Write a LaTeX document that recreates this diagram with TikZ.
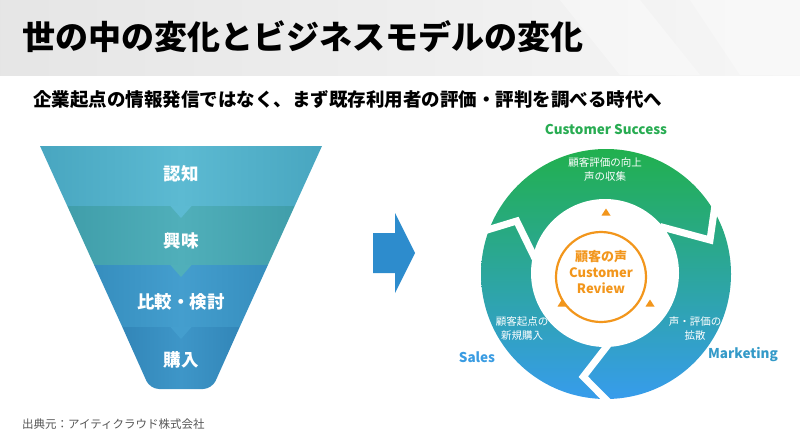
\documentclass[tikz,border=0pt]{standalone}
\usepackage{fontspec}
\setmainfont{Noto Sans CJK JP}
\definecolor{fA}{RGB}{92,186,210}
\definecolor{fAd}{RGB}{72,166,192}
\definecolor{fB}{RGB}{80,175,186}
\definecolor{fBd}{RGB}{64,158,170}
\definecolor{fC}{RGB}{68,158,206}
\definecolor{fCd}{RGB}{54,142,190}
\definecolor{fD}{RGB}{62,150,200}
\definecolor{fDd}{RGB}{50,134,184}
\definecolor{arrowc}{RGB}{45,140,205}
\definecolor{gT}{RGB}{33,176,78}
\definecolor{gM}{RGB}{38,164,160}
\definecolor{gB}{RGB}{55,156,236}
\definecolor{csc}{RGB}{40,172,82}
\definecolor{salc}{RGB}{58,156,226}
\definecolor{mkc}{RGB}{52,154,200}
\definecolor{orc}{RGB}{242,150,28}
\definecolor{footc}{RGB}{85,85,85}
\tikzset{
  lbl/.style={inner sep=0pt, font=\fontsize{17.5}{20}\selectfont\bfseries, text=white},
  ringtxt/.style={inner sep=0pt, align=center, text=white, font=\fontsize{10.5}{14}\selectfont},
  outerlbl/.style={inner sep=0pt, font=\fontsize{13.5}{16}\selectfont\bfseries},
  ortxt/.style={inner sep=0pt, text=orc, font=\fontsize{13}{15}\selectfont\bfseries},
  gap/.style={white, line width=7pt},
  tri/.style={fill=orc}
}
\begin{document}
\begin{tikzpicture}[x=1pt,y=-1pt]
\useasboundingbox (0,0) rectangle (800,439);
% title band
\shade[left color=gray!20, right color=gray!7] (0,0) rectangle (800,75);
\fill[white, opacity=0.35] (560,0) -- (640,0) -- (700,75) -- (620,75) -- cycle;
\fill[white, opacity=0.3] (690,0) -- (800,0) -- (800,75) -- (740,75) -- cycle;
\node[inner sep=0pt, anchor=west, font=\fontsize{33}{36}\selectfont\bfseries] (title) at (22,37) {世の中の変化とビジネスモデルの変化};
\node[inner sep=0pt, anchor=west, font=\fontsize{18.5}{22}\selectfont\bfseries] (sub) at (33,100) {企業起点の情報発信ではなく、まず既存利用者の評価・評判を調べる時代へ};
% funnel
\path[left color=fAd, right color=fAd, middle color=fA] (40,146) -- (322,146) -- (294.7,206) -- (67.3,206) -- cycle;
\path[left color=fBd, right color=fBd, middle color=fB] (67.3,206) -- (294.7,206) -- (267.9,265) -- (94.1,265) -- cycle;
\path[left color=fCd, right color=fCd, middle color=fC] (94.1,265) -- (267.9,265) -- (239.7,327) -- (122.3,327) -- cycle;
\path[left color=fDd, right color=fDd, middle color=fD] (122.3,327) -- (239.7,327) [rounded corners=9] -- (212,389) -- (150,389) [sharp corners] -- cycle;
\fill[fA] (170,205.5) -- (192,205.5) -- (181,218) -- cycle;
\fill[fB] (170,264.5) -- (192,264.5) -- (181,277) -- cycle;
\fill[fC] (170,326.5) -- (192,326.5) -- (181,339) -- cycle;
\node[lbl] (f1) at (181,174) {認知};
\node[lbl] (f2) at (181,241) {興味};
\node[lbl] (f3) at (181,302) {比較・検討};
\node[lbl] (f4) at (181,360) {購入};
% arrow
\fill[arrowc] (373,233) -- (395,233) -- (395,213) -- (415,253) -- (395,293) -- (395,273) -- (373,273) -- cycle;
% ring
\coordinate (C) at (605,273);
\shade[top color=gT, middle color=gM, bottom color=gB] (606,274) circle (125);
\fill[white] (C) circle (74);
\draw[gap] (474.7,233.8) -- (516.7,221) -- (535,258.5);
\draw[gap] (716,198) -- (710,240) -- (660,226.5);
\draw[gap] (611,341) -- (583.3,376.7) -- (611,404.7);
\node[ringtxt] (t1) at (605,170) {顧客評価の向上\\声の収集};
\node[ringtxt] (t2) at (522,329) {顧客起点の\\新規購入};
\node[ringtxt] (t3) at (695,329) {声・評価の\\拡散};
\node[outerlbl, text=csc] (cs) at (606,129) {Customer Success};
\node[outerlbl, text=salc] (sl) at (477,357) {Sales};
\node[outerlbl, text=mkc] (mk) at (743,354) {Marketing};
% centre
\draw[orc, line width=2.2pt] (601,277) circle (45);
\node[ortxt] (o1) at (601,257) {顧客の声};
\node[ortxt] (o2) at (601,273) {Customer};
\node[ortxt] (o3) at (601,288) {Review};
\fill[tri] (601.5,215.5) -- (610.5,215.5) -- (606,208.5) -- cycle;
\fill[tri] (557.5,306.5) -- (566.5,306.5) -- (562,299.5) -- cycle;
\fill[tri] (645.5,306.5) -- (654.5,306.5) -- (650,299.5) -- cycle;
% footer
\node[inner sep=0pt, anchor=west, text=footc, font=\fontsize{11.5}{14}\selectfont] (foot) at (22,424) {出典元：アイティクラウド株式会社};
\end{tikzpicture}
\end{document}
